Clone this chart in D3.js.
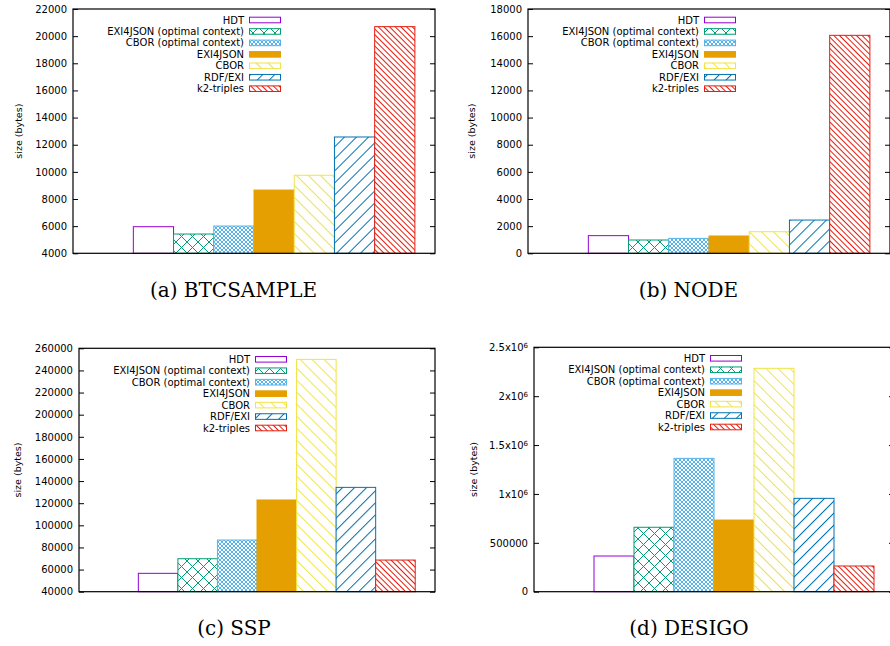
<!DOCTYPE html>
<html>
<head>
    <script src="https://d3js.org/d3.v7.min.js"></script>
    <style>
        body { margin: 0; background: #fff; }
        svg { display: block; }
        .tick text, .legend text, .ylabel {
            font-family: "DejaVu Sans", sans-serif;
            fill: #000;
        }
        .caption {
            font-family: "DejaVu Serif", serif;
            font-size: 20px;
            fill: #000;
        }
    </style>
</head>
<body>
<script>
    // Series (legend order)
    const series = ["HDT", "EXI4JSON (optimal context)", "CBOR (optimal context)", "EXI4JSON", "CBOR", "RDF/EXI", "k2-triples"];
    const colors = ["#9400d3", "#009e73", "#56b4e9", "#e69f00", "#f0e442", "#0072b2", "#e51e10"];

    // Sizes in bytes, one value per series
    const btcsample = [5960, 5420, 6010, 8660, 9750, 12570, 20700];
    const node = [1300, 980, 1100, 1275, 1590, 2450, 16060];
    const ssp = [56600, 69800, 86700, 122900, 250000, 134300, 68600];
    const desigo = [365000, 659000, 1364000, 733000, 2285000, 955000, 263000];

    // Tick values
    const ticksA = [4000, 6000, 8000, 10000, 12000, 14000, 16000, 18000, 20000, 22000];
    const ticksB = [0, 2000, 4000, 6000, 8000, 10000, 12000, 14000, 16000, 18000];
    const ticksC = [40000, 60000, 80000, 100000, 120000, 140000, 160000, 180000, 200000, 220000, 240000, 260000];
    const ticksD = [0, 500000, 1000000, 1500000, 2000000, 2500000];

    const captions = ["(a) BTCSAMPLE", "(b) NODE", "(c) SSP", "(d) DESIGO"];

    const panels = [
        { values: btcsample, ticks: ticksA, domain: [4000, 22000], left: 73, right: 435, top: 9, bottom: 253.3, labelX: 18.5, capX: 233.5, capY: 297 },
        { values: node, ticks: ticksB, domain: [0, 18000], left: 528, right: 890, top: 9, bottom: 253.3, labelX: 472, capX: 688.5, capY: 297 },
        { values: ssp, ticks: ticksC, domain: [40000, 260000], left: 79, right: 435, top: 348.3, bottom: 591.7, labelX: 17.5, capX: 234, capY: 635 },
        { values: desigo, ticks: ticksD, domain: [0, 2500000], left: 534, right: 894, top: 347.3, bottom: 591.7, labelX: 473.5, capX: 689, capY: 635, sci: true }
    ];

    const svg = d3.select("body").append("svg")
        .attr("width", 890)
        .attr("height", 646);

    // Fill patterns (gnuplot style)
    const defs = svg.append("defs");

    function crossPattern(id, size, color) {
        const p = defs.append("pattern").attr("id", id)
            .attr("patternUnits", "userSpaceOnUse")
            .attr("width", size).attr("height", size);
        p.append("rect").attr("width", size).attr("height", size).attr("fill", "#fff");
        p.append("path")
            .attr("d", `M0,0L${size},${size}M0,${size}L${size},0`)
            .attr("stroke", color).attr("stroke-width", 1).attr("fill", "none");
    }

    function hatchPattern(id, w, angle, color) {
        const p = defs.append("pattern").attr("id", id)
            .attr("patternUnits", "userSpaceOnUse")
            .attr("width", w).attr("height", w)
            .attr("patternTransform", `rotate(${angle})`);
        p.append("rect").attr("width", w).attr("height", w).attr("fill", "#fff");
        p.append("line")
            .attr("x1", 0.5).attr("x2", 0.5).attr("y1", 0).attr("y2", w)
            .attr("stroke", color).attr("stroke-width", 1);
    }

    crossPattern("p1", 11, colors[1]);
    crossPattern("p2", 4, colors[2]);
    hatchPattern("p4", 8.5, -45, colors[4]);
    hatchPattern("p5", 8.5, 45, colors[5]);
    hatchPattern("p6", 4, -45, colors[6]);

    const fills = ["#fff", "url(#p1)", "url(#p2)", colors[3], "url(#p4)", "url(#p5)", "url(#p6)"];

    function sciLabel(sel) {
        sel.each(function (d) {
            const t = d3.select(this);
            if (d < 1000000) { t.text(d); return; }
            const m = d / 1000000;
            t.text(null);
            t.append("tspan").text(m + "x10");
            t.append("tspan").attr("dy", "-0.45em").attr("font-size", "7px").text("6");
        });
    }

    panels.forEach((p, k) => {
        const y = d3.scaleLinear().domain(p.domain).range([p.bottom, p.top]);
        const x = d3.scaleLinear().domain([-2, 7]).range([p.left, p.right]);
        const g = svg.append("g");

        // bars
        g.selectAll("rect.bar")
            .data(p.values)
            .join("rect")
            .attr("class", "bar")
            .attr("x", (d, i) => x(i - 0.5))
            .attr("width", x(1) - x(0))
            .attr("y", d => y(d))
            .attr("height", d => p.bottom - y(d))
            .attr("fill", (d, i) => fills[i])
            .attr("stroke", (d, i) => colors[i])
            .attr("stroke-width", 1);

        // left axis, inward ticks
        const left = g.append("g")
            .attr("transform", `translate(${p.left},0)`)
            .call(d3.axisLeft(y).tickValues(p.ticks).tickSize(-5).tickPadding(6).tickFormat(d3.format("d")));
        left.select(".domain").remove();
        left.selectAll("line").attr("stroke", "#000");
        left.selectAll("text").attr("font-size", "10px").attr("font-family", "DejaVu Sans");
        if (p.sci) left.selectAll(".tick text").call(sciLabel);

        // right mirrored ticks
        const right = g.append("g")
            .attr("transform", `translate(${p.right},0)`)
            .call(d3.axisRight(y).tickValues(p.ticks).tickSize(-5).tickFormat(""));
        right.select(".domain").remove();
        right.selectAll("line").attr("stroke", "#000");

        // frame
        g.append("rect")
            .attr("x", p.left).attr("y", p.top)
            .attr("width", p.right - p.left).attr("height", p.bottom - p.top)
            .attr("fill", "none").attr("stroke", "#000").attr("stroke-width", 1.2);

        // y label
        g.append("text")
            .attr("class", "ylabel")
            .attr("transform", `translate(${p.labelX},${(p.top + p.bottom) / 2}) rotate(-90)`)
            .attr("text-anchor", "middle")
            .attr("dy", "0.35em")
            .attr("font-size", "9.5px")
            .text("size (bytes)");

        // legend
        const lg = g.append("g").attr("class", "legend");
        series.forEach((s, i) => {
            const ry = p.top + 11 + i * 11.45;
            lg.append("text")
                .attr("x", p.left + 171).attr("y", ry)
                .attr("dy", "0.35em")
                .attr("text-anchor", "end")
                .attr("font-size", "10px")
                .text(s);
            lg.append("rect")
                .attr("x", p.left + 176.5).attr("y", ry - 2.8)
                .attr("width", 31).attr("height", 5.6)
                .attr("fill", fills[i])
                .attr("stroke", colors[i])
                .attr("stroke-width", 1);
        });

        // caption
        svg.append("text")
            .attr("class", "caption")
            .attr("x", p.capX).attr("y", p.capY)
            .attr("text-anchor", "middle")
            .text(captions[k]);
    });
</script>
</body>
</html>
